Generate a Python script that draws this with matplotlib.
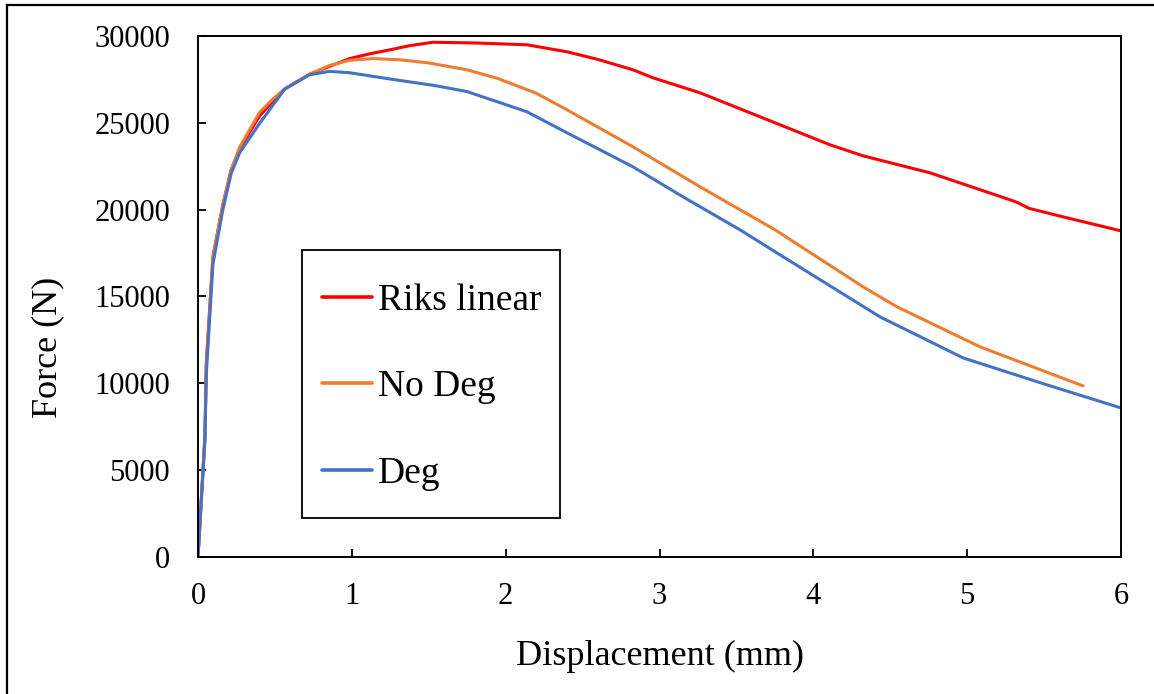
import matplotlib
matplotlib.use("Agg")
import matplotlib.pyplot as plt
from matplotlib.lines import Line2D
from matplotlib.patches import Rectangle

# --- data --------------------------------------------------------------
riks_x = [0, 0.045, 0.054, 0.097, 0.162, 0.216, 0.271, 0.40, 0.563, 0.725,
          0.855, 0.985, 1.12, 1.245, 1.38, 1.528, 1.8, 2.139, 2.399, 2.6,
          2.828, 2.958, 3.264, 3.589, 3.914, 4.109, 4.324, 4.759, 5.299,
          5.33, 5.40, 5.624, 6.0]
riks_y = [0, 7000, 11200, 17300, 20300, 22300, 23500, 25400, 26950, 27800,
          28250, 28700, 28980, 29200, 29450, 29640, 29600, 29493, 29090,
          28650, 28053, 27592, 26728, 25576, 24424, 23733, 23099, 22120,
          20507, 20400, 20080, 19585, 18779]

nodeg_x = [0, 0.045, 0.054, 0.097, 0.162, 0.216, 0.271, 0.40, 0.49, 0.563,
           0.725, 0.855, 0.985, 1.14, 1.313, 1.5, 1.749, 1.95, 2.2, 2.399,
           2.828, 3.264, 3.752, 4.324, 4.545, 5.085, 5.754]
nodeg_y = [0, 6900, 11000, 17200, 20300, 22300, 23600, 25600, 26400, 26950,
           27800, 28300, 28600, 28700, 28629, 28450, 28053, 27550, 26700,
           25749, 23618, 21313, 18836, 15553, 14401, 12097, 9850]

deg_x = [0, 0.045, 0.054, 0.097, 0.162, 0.216, 0.271, 0.40, 0.563, 0.725,
         0.855, 0.985, 1.245, 1.548, 1.749, 1.95, 2.139, 2.399, 2.828, 3.153,
         3.524, 3.784, 4.434, 4.974, 5.52, 6.0]
deg_y = [0, 6700, 10535, 16859, 20020, 22095, 23281, 24960, 26936, 27766,
         27964, 27885, 27529, 27134, 26800, 26200, 25634, 24424, 22465, 20737,
         18836, 17396, 13825, 11463, 9908, 8583]

labels = ["Riks linear", "No Deg", "Deg"]
colors = ["#FF0000", "#ED7D31", "#4472C4"]

plt.rcParams["font.family"] = ["Liberation Serif", "DejaVu Serif"]

fig = plt.figure(figsize=(11.54, 6.94), dpi=100)
ax = fig.add_axes([198 / 1154, 137 / 694, 923 / 1154, 521 / 694])

for xs, ys, c, lab in zip([riks_x, nodeg_x, deg_x], [riks_y, nodeg_y, deg_y],
                          colors, labels):
    ax.plot(xs, ys, color=c, linewidth=2.2, label=lab,
            solid_joinstyle="round", solid_capstyle="round")

ax.set_xlim(0, 6)
ax.set_ylim(0, 30000)
ax.set_xticks(range(0, 7))
ax.set_yticks(range(0, 30001, 5000))
ax.tick_params(direction="in", length=6, width=1.3, labelsize=22)
ax.tick_params(axis="y", pad=20)
ax.tick_params(axis="x", pad=18)
for spine in ax.spines.values():
    spine.set_linewidth(1.4)

ax.set_xlabel("Displacement (mm)", fontsize=26)
ax.xaxis.label.set_va("center")
ax.xaxis.set_label_coords(0.5, -0.19)
ax.set_ylabel("Force (N)", fontsize=26)
ax.yaxis.label.set_va("center")
ax.yaxis.set_label_coords(-0.1625, 0.403)

# legend entries without frame, box drawn separately
leg = ax.legend(loc="upper left", bbox_to_anchor=(0.114, 0.5605),
                borderaxespad=0, fontsize=27, frameon=False,
                handlelength=1.33, handletextpad=0.16,
                labelspacing=1.38, borderpad=0.5)
for h in leg.get_lines():
    h.set_linewidth(2.6)
ax.add_patch(Rectangle((0.1127, 0.0749), 0.2795, 0.5144,
                       transform=ax.transAxes, fill=False,
                       edgecolor="black", linewidth=1.3, zorder=5))

# outer frame (left and top edges visible in the cropped reference)
fig.add_artist(Line2D([7 / 1154, 7 / 1154], [0, 1 - 5 / 694],
                      transform=fig.transFigure, color="black", linewidth=1.6))
fig.add_artist(Line2D([7 / 1154, 1], [1 - 5 / 694, 1 - 5 / 694],
                      transform=fig.transFigure, color="black", linewidth=1.6))

fig.savefig("out.png", dpi=100)
